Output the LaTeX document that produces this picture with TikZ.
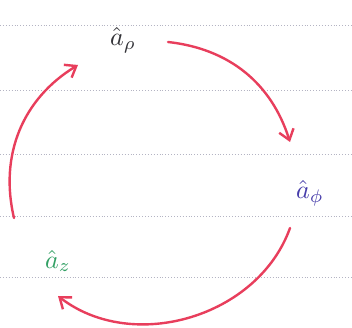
\documentclass[tikz,border=0pt]{standalone}
\usetikzlibrary{arrows.meta}
\definecolor{penred}{RGB}{232,62,92}
\definecolor{penblue}{RGB}{70,60,170}
\definecolor{pengreen}{RGB}{50,160,100}
\definecolor{pencil}{RGB}{50,50,55}
\definecolor{ruleline}{RGB}{180,180,195}
\newcommand{\biglbl}[1]{\scalebox{2.6}{$#1$}}
\begin{document}
\begin{tikzpicture}[x=1pt,y=1pt,
  rule/.style={ruleline, dotted, line width=0.9pt},
  vlbl/.style={inner sep=0pt},
  cyc/.style={penred, line width=2.4pt, line cap=round, -{Straight Barb[length=10pt,width=15pt,line width=2.4pt]}}]
\useasboundingbox (0,0) rectangle (352,328);
\fill[white] (0,0) rectangle (352,328);
% ruled notebook lines
\foreach \yy in {303,238,174,112,51} \draw[rule] (0,\yy) -- (352,\yy);
% labels
\node[vlbl, text=pencil] (rho) at (123,288) {\biglbl{\hat{a}_{\rho}}};
\node[vlbl, text=penblue] (phi) at (310,135) {\biglbl{\hat{a}_{\phi}}};
\node[vlbl, text=pengreen] (z) at (58,67) {\biglbl{\hat{a}_{z}}};
% arc end points
\coordinate (a1s) at (168,286);
\coordinate (a1e) at (290,186);
\coordinate (a2s) at (290,100);
\coordinate (a2e) at (58,32);
\coordinate (a3s) at (14,110);
\coordinate (a3e) at (78,263);
\draw[cyc] (a1s) to[bend left=33] (a1e);
\draw[cyc] (a2s) to[bend left=54] (a2e);
\draw[cyc] (a3s) to[bend left=36] (a3e);
\end{tikzpicture}
\end{document}
